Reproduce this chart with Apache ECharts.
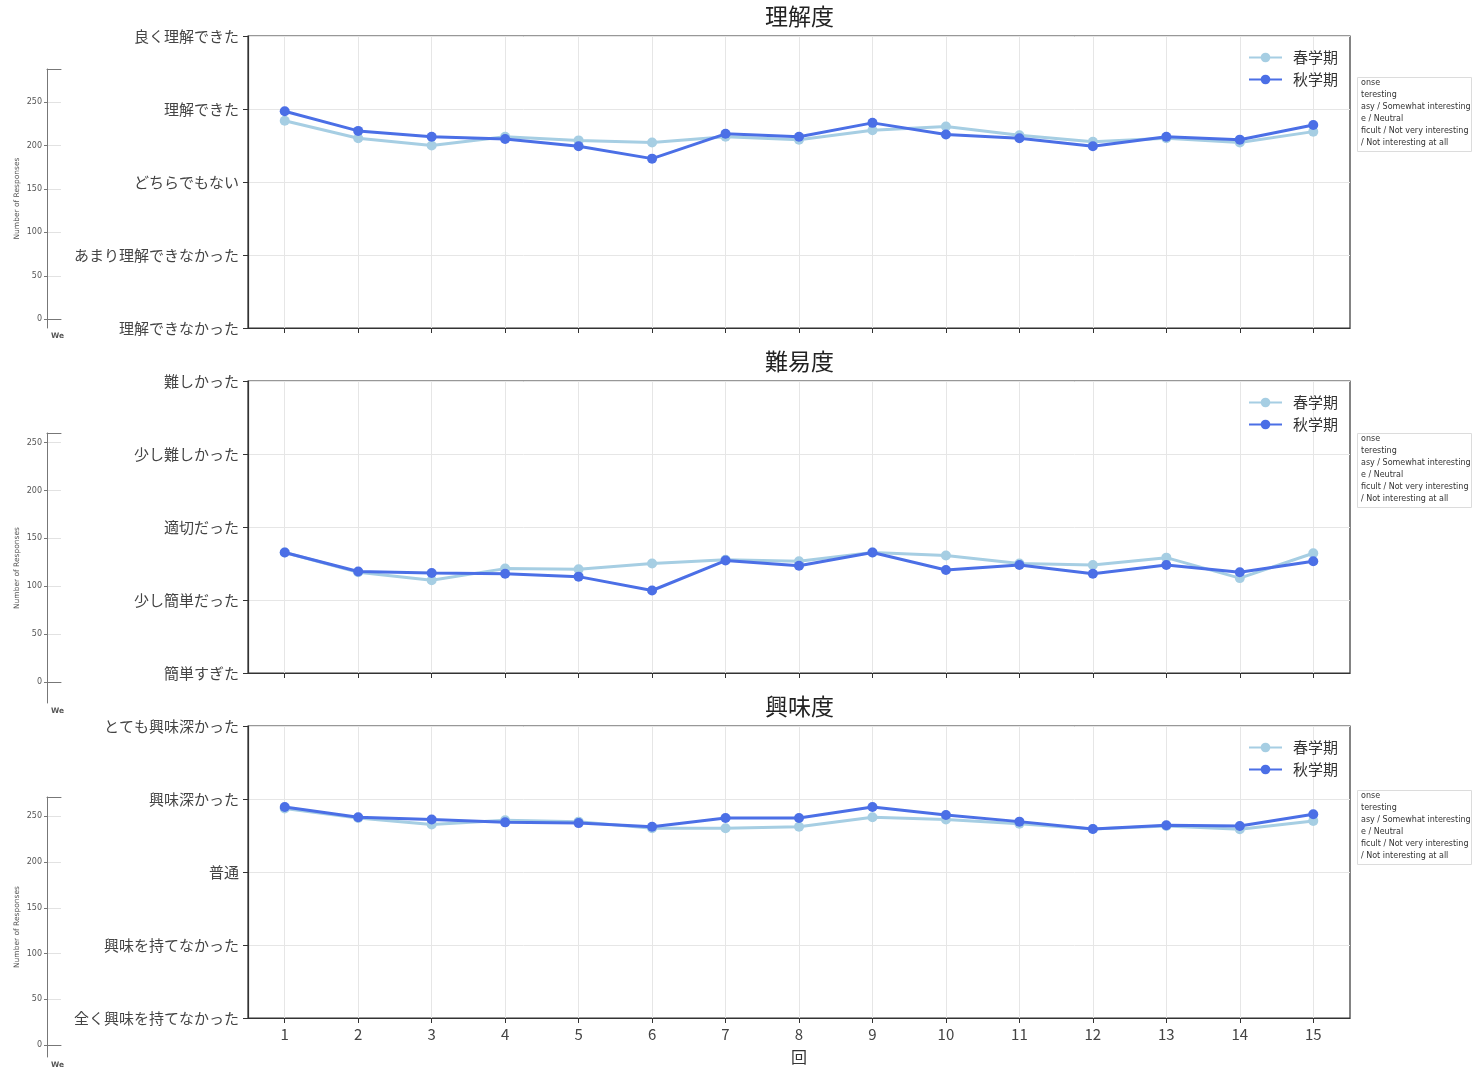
<!DOCTYPE html>
<html>
<head>
<meta charset="utf-8">
<script src="https://cdn.jsdelivr.net/npm/echarts@6/dist/echarts.min.js"></script>
<style>
  html, body { margin: 0; padding: 0; background: #fff; }
  #chart { width: 1473px; height: 1068px; }
</style>
</head>
<body>
<div id="chart"></div>
<script>
var rounds = ['1', '2', '3', '4', '5', '6', '7', '8', '9', '10', '11', '12', '13', '14', '15'];
var titles = ['理解度', '難易度', '興味度'];

var understandLabels = ['理解できなかった', 'あまり理解できなかった', 'どちらでもない', '理解できた', '良く理解できた'];
var difficultyLabels = ['簡単すぎた', '少し簡単だった', '適切だった', '少し難しかった', '難しかった'];
var interestLabels = ['全く興味を持てなかった', '興味を持てなかった', '普通', '興味深かった', 'とても興味深かった'];

var understandSpring = [3.84, 3.60, 3.50, 3.62, 3.57, 3.54, 3.62, 3.58, 3.71, 3.76, 3.64, 3.55, 3.60, 3.54, 3.69];
var understandAutumn = [3.97, 3.70, 3.62, 3.59, 3.49, 3.32, 3.66, 3.62, 3.81, 3.65, 3.60, 3.49, 3.62, 3.58, 3.78];
var difficultySpring = [2.65, 2.38, 2.27, 2.43, 2.42, 2.50, 2.55, 2.53, 2.65, 2.61, 2.50, 2.48, 2.58, 2.30, 2.64];
var difficultyAutumn = [2.65, 2.39, 2.37, 2.36, 2.32, 2.13, 2.54, 2.47, 2.65, 2.41, 2.48, 2.36, 2.48, 2.38, 2.53];
var interestSpring = [3.87, 3.74, 3.65, 3.71, 3.69, 3.60, 3.60, 3.62, 3.75, 3.72, 3.66, 3.59, 3.63, 3.585, 3.70];
var interestAutumn = [3.89, 3.75, 3.72, 3.68, 3.67, 3.62, 3.74, 3.74, 3.89, 3.78, 3.69, 3.59, 3.64, 3.63, 3.79];

// faint chart peeking out behind the figure
var ghostTicks = [0, 50, 100, 150, 200, 250];
var ghostLegendText = ['onse', 'teresting', 'asy / Somewhat interesting', 'e / Neutral', 'ficult / Not very interesting', '/ Not interesting at all'];

var springColor = '#a6cee3';
var autumnColor = '#4b6fe6';
var font = '"Noto Sans CJK JP", "Noto Sans", sans-serif';

var panels = [
  { labels: understandLabels, spring: understandSpring, autumn: understandAutumn, top: 36 },
  { labels: difficultyLabels, spring: difficultySpring, autumn: difficultyAutumn, top: 381 },
  { labels: interestLabels, spring: interestSpring, autumn: interestAutumn, top: 726 }
];
var ghosts = [
  { top: 69, height: 259, min: -10, max: 288, legendTop: 77 },
  { top: 433, height: 270, min: -22, max: 260, legendTop: 433 },
  { top: 797, height: 260, min: -13, max: 271, legendTop: 790 }
];

var grid = [], xAxis = [], yAxis = [], series = [], title = [], legend = [], graphic = [];

panels.forEach(function(p, i) {
  grid.push({ left: 248, width: 1102, top: p.top, height: 292, show: true,
    borderColor: '#333', borderWidth: 1.2, backgroundColor: 'transparent' });
  title.push({ text: titles[i], left: 765, top: p.top - 31, padding: 0,
    textStyle: { fontFamily: font, fontSize: 23, fontWeight: 'normal', color: '#222' } });
  xAxis.push({
    type: 'category', gridIndex: i, data: rounds, boundaryGap: true,
    axisLine: { lineStyle: { color: '#333', width: 1.2 } },
    axisTick: { show: true, alignWithLabel: true, length: 5, lineStyle: { color: '#333' } },
    axisLabel: { show: i === 2, fontFamily: font, fontSize: 15, color: '#444', margin: 9 },
    splitLine: { show: false },
    name: i === 2 ? '回' : '', nameLocation: 'middle', nameGap: 31,
    nameTextStyle: { fontFamily: font, fontSize: 16, color: '#333' }
  });
  yAxis.push({
    type: 'value', gridIndex: i, min: 1, max: 5, interval: 1,
    axisLine: { show: true, lineStyle: { color: '#333', width: 1.2 } },
    axisTick: { show: true, length: 5, lineStyle: { color: '#333' } },
    axisLabel: { fontFamily: font, fontSize: 15, color: '#444', margin: 9,
      formatter: (function(labels) { return function(v) { return labels[Math.round(v) - 1]; }; })(p.labels) },
    splitLine: { show: true, lineStyle: { color: '#e6e6e6', width: 1 } }
  });
  series.push({
    name: '春学期', type: 'line', xAxisIndex: i, yAxisIndex: i, data: p.spring,
    symbol: 'circle', symbolSize: 10, z: 3,
    lineStyle: { color: springColor, width: 3 }, itemStyle: { color: springColor },
    markLine: {
      silent: true, symbol: ['none', 'none'], z: 1, animation: false,
      label: { show: false },
      lineStyle: { color: '#e6e6e6', width: 1, type: 'solid' },
      emphasis: { disabled: true },
      data: rounds.map(function(r) { return { xAxis: r }; })
    }
  });
  series.push({
    name: '秋学期', type: 'line', xAxisIndex: i, yAxisIndex: i, data: p.autumn,
    symbol: 'circle', symbolSize: 10, z: 4,
    lineStyle: { color: autumnColor, width: 3 }, itemStyle: { color: autumnColor }
  });
  legend.push({
    data: ['春学期', '秋学期'], orient: 'vertical', left: 1243, top: p.top + 9,
    itemWidth: 33, itemHeight: 12, itemGap: 7,
    textStyle: { fontFamily: font, fontSize: 15, color: '#333', padding: [0, 0, 0, 6] }
  });
});

ghosts.forEach(function(g, k) {
  var gi = panels.length + k;
  grid.push({ left: 47, width: 14, top: g.top, height: g.height });
  xAxis.push({ type: 'category', gridIndex: gi, data: ['We'], position: 'bottom',
    axisLine: { lineStyle: { color: '#777', width: 1 } }, axisTick: { show: false },
    axisLabel: { show: false } });
  xAxis.push({ type: 'category', gridIndex: gi, data: ['We'], position: 'top',
    axisLine: { lineStyle: { color: '#777', width: 1 } }, axisTick: { show: false },
    axisLabel: { show: false } });
  yAxis.push({
    type: 'value', gridIndex: gi, min: g.min, max: g.max,
    name: 'Number of Responses', nameLocation: 'middle', nameGap: 26, nameRotate: 90,
    nameTextStyle: { fontFamily: '"DejaVu Sans", sans-serif', fontSize: 7.5, color: '#555' },
    axisLine: { show: true, lineStyle: { color: '#777', width: 1 } },
    axisTick: { show: true, length: 3, customValues: ghostTicks, lineStyle: { color: '#777' } },
    axisLabel: { customValues: ghostTicks, fontFamily: '"DejaVu Sans", sans-serif', fontSize: 8, color: '#555', margin: 5 },
    splitLine: { show: true, lineStyle: { color: '#e2e2e2' } }
  });
  graphic.push({ type: 'text', left: 51, top: g.top + g.height + 4,
    style: { text: 'We', font: 'bold 7.5px "DejaVu Sans"', fill: '#555' } });
  graphic.push({ type: 'rect', left: 1357, top: g.legendTop, z: -1,
    shape: { width: 114, height: 74 },
    style: { fill: '#fff', stroke: '#dcdcdc', lineWidth: 1 } });
  ghostLegendText.forEach(function(t, j) {
    graphic.push({ type: 'text', left: 1361, top: g.legendTop + 2 + j * 12,
      style: { text: t, font: '8px "DejaVu Sans"', fill: '#333' } });
  });
});

var chart = echarts.init(document.getElementById('chart'), null, { renderer: 'canvas' });
chart.setOption({
  animation: false,
  backgroundColor: '#fff',
  title: title,
  legend: legend,
  grid: grid,
  xAxis: xAxis,
  yAxis: yAxis,
  series: series,
  graphic: graphic
});
window.addEventListener('resize', function() { chart.resize(); });
</script>
</body>
</html>
